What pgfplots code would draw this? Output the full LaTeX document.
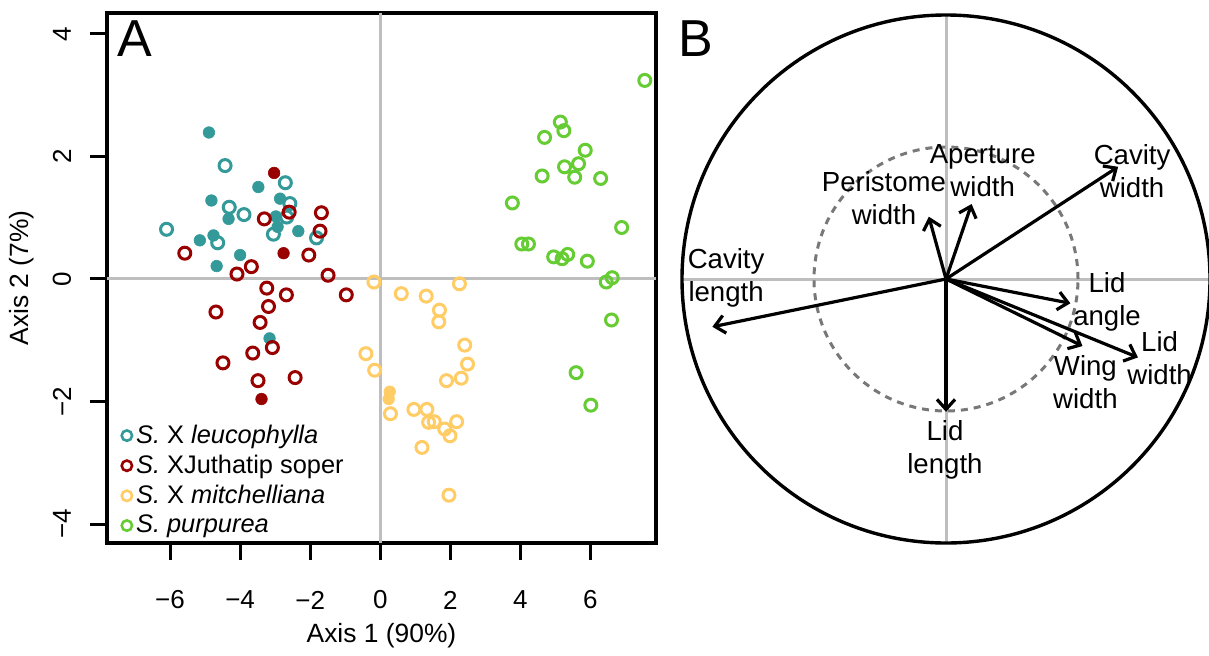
\documentclass[border=0pt]{standalone}
\usepackage{fontspec}
\setmainfont{Liberation Sans}
\usepackage{pgfplots}
\pgfplotsset{compat=1.18}
\usetikzlibrary{arrows.meta}
\definecolor{cteal}{RGB}{51,153,153}
\definecolor{cred}{RGB}{153,0,0}
\definecolor{cyel}{RGB}{255,204,102}
\definecolor{cgreen}{RGB}{102,204,51}
\definecolor{cgl}{RGB}{190,190,190}
\definecolor{cdash}{RGB}{120,120,120}
\begin{document}
\begin{tikzpicture}
\useasboundingbox (0pt,0pt) rectangle (604.5pt,327.5pt);
\begin{axis}[
  at={(53.5pt,56pt)}, anchor=south west,
  width=274.5pt, height=265pt, scale only axis,
  xmin=-7.8, xmax=7.87, ymin=-4.31, ymax=4.34,
  axis line style={line width=1.7pt},
  tick align=outside, major tick length=8.5pt,
  tick style={line width=1.5pt, black},
  xtick={-6,-4,...,6}, xticklabels={−6,−4,−2,0,2,4,6},
  ytick={-4,-2,...,4}, yticklabels={−4,−2,0,2,4},
  xtick pos=bottom, ytick pos=left,
  ticklabel style={font=\fontsize{13}{15}\selectfont},
  xticklabel style={anchor=center, yshift=-20pt},
  yticklabel style={anchor=center, xshift=-14pt, rotate=90},
  xlabel={Axis 1 (90\%)}, ylabel={Axis 2 (7\%)},
  label style={font=\fontsize{13.2}{15}\selectfont},
  xlabel style={at={(axis description cs:0.5,-0.1755)}, anchor=center},
  ylabel style={at={(axis description cs:-0.1548,0.5)}, anchor=center},
  legend style={at={(axis description cs:0.026,0.005)}, anchor=south west,
    draw=none, fill=none, inner sep=0pt, row sep=0.35pt,
    font=\fontsize{12.7}{14}\selectfont},
  legend cell align=left,
  legend image code/.code={\draw[#1] plot coordinates {(0pt,0pt)};},
]
\addplot[cgl, line width=1.5pt, forget plot] coordinates {(0,-4.31) (0,4.34)};
\addplot[cgl, line width=1.5pt, forget plot] coordinates {(-7.8,0) (7.87,0)};
% S. X leucophylla filled
\addplot[only marks, mark=*, mark size=2.9pt, color=cteal, mark options={line width=0.3pt}, forget plot] coordinates {
(-4.89,2.39) (-3.48,1.50) (-4.82,1.28) (-2.86,1.31) (-4.33,0.98) (-2.98,1.02) (-2.93,0.85)
(-2.34,0.78) (-5.15,0.63) (-4.76,0.71) (-4.00,0.39) (-4.67,0.21) (-3.16,-0.97)};
% open
\addplot[only marks, mark=o, mark size=3pt, color=cteal, mark options={line width=1.5pt}, forget plot] coordinates {
(-4.43,1.85) (-2.71,1.57) (-4.31,1.17) (-3.89,1.05) (-2.58,1.23) (-2.67,1.01) (-3.05,0.73)
(-6.10,0.81) (-4.64,0.59) (-1.82,0.67)};
% S. XJuthatip soper
\addplot[only marks, mark=*, mark size=2.9pt, color=cred, mark options={line width=0.3pt}, forget plot] coordinates {
(-3.03,1.73) (-2.76,0.42) (-3.39,-1.96)};
\addplot[only marks, mark=o, mark size=3pt, color=cred, mark options={line width=1.5pt}, forget plot] coordinates {
(-2.60,1.09) (-1.68,1.08) (-3.31,0.98) (-1.72,0.78) (-5.58,0.42) (-2.04,0.39) (-3.68,0.20)
(-4.09,0.08) (-1.49,0.06) (-3.24,-0.15) (-2.68,-0.26) (-0.97,-0.26) (-3.19,-0.45) (-4.69,-0.54)
(-3.43,-0.71) (-3.08,-1.12) (-3.64,-1.21) (-4.49,-1.37) (-3.49,-1.66) (-2.43,-1.61)};
% S. X mitchelliana
\addplot[only marks, mark=*, mark size=2.9pt, color=cyel, mark options={line width=0.3pt}, forget plot] coordinates {
(0.27,-1.84) (0.24,-1.96)};
\addplot[only marks, mark=o, mark size=3pt, color=cyel, mark options={line width=1.5pt}, forget plot] coordinates {
(-0.18,-0.05) (2.26,-0.08) (0.60,-0.24) (1.31,-0.28) (1.69,-0.51) (1.67,-0.70) (2.41,-1.08)
(-0.41,-1.22) (2.49,-1.39) (-0.16,-1.49) (1.89,-1.66) (2.31,-1.62) (0.29,-2.20) (0.96,-2.13)
(1.33,-2.13) (1.38,-2.34) (1.54,-2.33) (1.84,-2.45) (1.99,-2.56) (2.18,-2.33) (1.19,-2.75)
(1.96,-3.53)};
% S. purpurea
\addplot[only marks, mark=o, mark size=3pt, color=cgreen, mark options={line width=1.5pt}, forget plot] coordinates {
(7.55,3.24) (5.14,2.56) (5.24,2.42) (4.69,2.31) (5.85,2.10) (5.26,1.83) (5.66,1.88) (4.62,1.68)
(5.55,1.66) (6.29,1.64) (3.77,1.24) (6.89,0.84) (4.04,0.57) (4.23,0.57) (4.95,0.36) (5.19,0.33)
(5.35,0.40) (5.91,0.29) (6.45,-0.05) (6.62,0.02) (6.60,-0.67) (5.59,-1.53) (6.01,-2.06)};
\addlegendimage{only marks, mark=o, mark size=2.6pt, color=cteal, mark options={line width=1.3pt}}
\addlegendentry{\textit{S.} X \textit{leucophylla}}
\addlegendimage{only marks, mark=o, mark size=2.6pt, color=cred, mark options={line width=1.3pt}}
\addlegendentry{\textit{S.} XJuthatip soper}
\addlegendimage{only marks, mark=o, mark size=2.6pt, color=cyel, mark options={line width=1.3pt}}
\addlegendentry{\textit{S.} X \textit{mitchelliana}}
\addlegendimage{only marks, mark=o, mark size=2.6pt, color=cgreen, mark options={line width=1.3pt}}
\addlegendentry{\textit{S. purpurea}}
\end{axis}
\node at (67.5pt,308pt) {\fontsize{26}{30}\selectfont A};
\node at (348pt,308pt) {\fontsize{26}{30}\selectfont B};
\begin{axis}[
  at={(473pt,188pt)}, anchor=center,
  width=264pt, height=264pt, scale only axis,
  xmin=-1, xmax=1, ymin=-1, ymax=1,
  hide axis, clip=false,
  arr/.style={black, solid, no markers, line width=1.6pt,
    -{Straight Barb[length=5pt,width=9pt,line width=1.6pt]}},
]
\addplot[cgl, solid, no markers, line width=1.5pt] coordinates {(-1,0) (1,0)};
\addplot[cgl, solid, no markers, line width=1.5pt] coordinates {(0,-1) (0,1)};
\draw[cdash, line width=1.5pt, dash pattern=on 3.5pt off 3pt] (axis cs:0,0) circle [radius=0.5];
\draw[black, line width=1.7pt] (axis cs:0,0) circle [radius=1];
\addplot[arr] coordinates {(0,0) (-0.885,-0.181)};
\addplot[arr] coordinates {(0,0) (0.652,0.425)};
\addplot[arr] coordinates {(0,0) (-0.065,0.236)};
\addplot[arr] coordinates {(0,0) (0.097,0.284)};
\addplot[arr] coordinates {(0,0) (0.471,-0.092)};
\addplot[arr] coordinates {(0,0) (0.517,-0.254)};
\addplot[arr] coordinates {(0,0) (0.727,-0.297)};
\addplot[arr] coordinates {(0,0) (0.0,-0.503)};
\begin{scope}[every node/.style={align=center, font=\fontsize{13.8}{16.5}\selectfont}]
\node at (axis cs:-0.833,0.003) {Cavity\\length};
\node at (axis cs:0.705,0.409) {Cavity\\width};
\node at (axis cs:0.139,0.409) {Aperture\\width};
\node at (axis cs:-0.235,0.305) {Peristome\\width};
\node at (axis cs:0.61,-0.086) {Lid\\angle};
\node at (axis cs:0.809,-0.299) {Lid\\width};
\node at (axis cs:0.528,-0.389) {Wing\\width};
\node at (axis cs:-0.004,-0.646) {Lid\\length};
\end{scope}
\end{axis}
\end{tikzpicture}
\end{document}
